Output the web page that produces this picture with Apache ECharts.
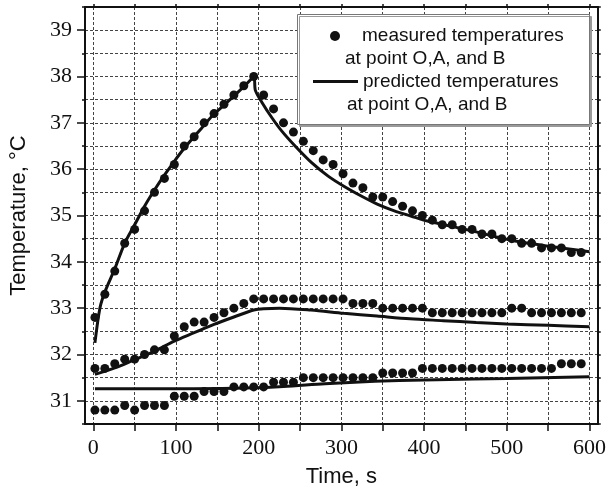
<!DOCTYPE html>
<html><head><meta charset="utf-8">
<script src="https://cdn.jsdelivr.net/npm/echarts@6/dist/echarts.min.js"></script>
<style>html,body{margin:0;padding:0;background:#fff}#c{width:609px;height:493px}</style>
</head><body><div id="c"></div>
<script>
// ---- data ----
const measuredTime = [2,14,26,38,50,62,74,86,98,110,122,134,146,158,170,182,194,206,218,230,242,254,266,278,290,302,314,326,338,350,362,374,386,398,410,422,434,446,458,470,482,494,506,518,530,542,554,566,578,590];
const measuredO = [32.8,33.3,33.8,34.4,34.7,35.1,35.5,35.8,36.1,36.5,
  36.7,37.0,37.2,37.4,37.6,37.8,38.0,37.6,37.3,37.0,
  36.8,36.6,36.4,36.2,36.1,35.9,35.7,35.6,35.4,35.4,
  35.3,35.2,35.1,35.0,34.9,34.8,34.8,34.7,34.7,34.6,
  34.6,34.5,34.5,34.4,34.4,34.3,34.3,34.3,34.2,34.2];
const measuredA = [31.7,31.7,31.8,31.9,31.9,32.0,32.1,32.1,32.4,32.6,
  32.7,32.7,32.8,32.9,33.0,33.1,33.2,33.2,33.2,33.2,
  33.2,33.2,33.2,33.2,33.2,33.2,33.1,33.1,33.1,33.0,
  33.0,33.0,33.0,33.0,32.9,32.9,32.9,32.9,32.9,32.9,
  32.9,32.9,33.0,33.0,32.9,32.9,32.9,32.9,32.9,32.9];
const measuredB = [30.8,30.8,30.8,30.9,30.8,30.9,30.9,30.9,31.1,31.1,
  31.1,31.2,31.2,31.2,31.3,31.3,31.3,31.3,31.4,31.4,
  31.4,31.5,31.5,31.5,31.5,31.5,31.5,31.5,31.5,31.6,
  31.6,31.6,31.6,31.7,31.7,31.7,31.7,31.7,31.7,31.7,
  31.7,31.7,31.7,31.7,31.7,31.7,31.7,31.8,31.8,31.8];

const predTimeO = [2,8,14,26,38,50,62,74,86,98,110,122,134,146,158,170,182,194,196,204,216,228,244,264,284,304,324,344,364,384,404,450,510,600];
const predO = [32.25,33.0,33.35,33.85,34.4,34.8,35.2,35.55,35.87,36.17,36.45,36.7,36.95,37.19,37.38,37.58,37.78,37.98,37.7,37.44,37.11,36.82,36.5,36.14,35.85,35.62,35.42,35.24,35.1,34.99,34.88,34.7,34.45,34.22];
const predTimeA = [2,26,50,74,98,122,146,170,194,206,225,263,303,343,383,423,463,500,550,600];
const predA = [31.57,31.71,31.89,32.07,32.29,32.47,32.65,32.81,32.96,32.99,33.0,32.96,32.89,32.83,32.77,32.73,32.69,32.66,32.63,32.6];
const predTimeB = [2,100,170,230,280,340,400,460,500,600];
const predB = [31.26,31.26,31.27,31.31,31.37,31.42,31.45,31.47,31.48,31.52];

const xTicks = [0,50,100,150,200,250,300,350,400,450,500,550,600];
const xLabels = [0,100,200,300,400,500,600];
const yLabels = [31,32,33,34,35,36,37,38,39];

const nameMeasured = 'measured temperatures at point O,A, and B';
const namePredicted = 'predicted temperatures at point O,A, and B';

const zip = (xs, ys) => xs.map((x, i) => [x, ys[i]]);

// ---- chart ----
const chart = echarts.init(document.getElementById('c'), null, {renderer: 'canvas'});
const gridRect = {left: 85, right: 6, top: 7, bottom: 69};
const ink = '#111';
const dash = {show: true, lineStyle: {color: '#444', width: 1, type: [3, 2]}};
const sans = 'Liberation Sans, Arial, sans-serif';
const serif = 'Liberation Serif, Times New Roman, serif';

function scatter(data) {
  return {type: 'scatter', name: nameMeasured, xAxisIndex: 0, yAxisIndex: 0,
    data: data, symbol: 'circle', symbolSize: 9, itemStyle: {color: ink, opacity: 1}, z: 3};
}
function line(data) {
  return {type: 'line', name: namePredicted, xAxisIndex: 0, yAxisIndex: 0,
    data: data, symbol: 'none', showSymbol: false, smooth: 0.3,
    lineStyle: {color: ink, width: 3}, itemStyle: {color: ink}, z: 2};
}

const legendRich = {
  e: {lineHeight: 23, fontSize: 19},
  a: {lineHeight: 23, fontSize: 19, padding: [0, 0, 0, 17]},
  b: {lineHeight: 23, fontSize: 19},
  c: {lineHeight: 23, fontSize: 19},
  d: {lineHeight: 23, fontSize: 19, padding: [0, 0, 0, -16]}
};

chart.setOption({
  animation: false,
  backgroundColor: '#fff',
  grid: [Object.assign({}, gridRect), Object.assign({}, gridRect)],
  xAxis: [
    {type: 'value', gridIndex: 0, position: 'bottom', min: -10, max: 610,
      axisLine: {show: true, onZero: false, lineStyle: {color: ink, width: 2}},
      axisTick: {show: true, customValues: xTicks, length: 7, lineStyle: {color: ink, width: 1.5}},
      axisLabel: {show: true, customValues: xLabels, margin: 13, color: ink, fontFamily: serif, fontSize: 22},
      splitLine: dash,
      name: 'Time, s', nameLocation: 'middle', nameGap: 42,
      nameTextStyle: {color: ink, fontFamily: sans, fontSize: 22}},
    {type: 'value', gridIndex: 0, position: 'top', min: -10, max: 610,
      axisLine: {show: true, onZero: false, lineStyle: {color: ink, width: 2}},
      axisTick: {show: true, customValues: xTicks, length: 3, lineStyle: {color: ink, width: 1.5}},
      axisLabel: {show: false}, splitLine: {show: false}},
    {type: 'value', gridIndex: 1, show: false, min: 0, max: 1}
  ],
  yAxis: [
    {type: 'value', gridIndex: 0, position: 'left', min: 30.5, max: 39.5, interval: 0.5,
      axisLine: {show: true, onZero: false, lineStyle: {color: ink, width: 2}},
      axisTick: {show: true, length: 3, lineStyle: {color: ink, width: 1.5}},
      axisLabel: {show: true, customValues: yLabels, margin: 13, color: ink, fontFamily: serif, fontSize: 22},
      splitLine: dash,
      name: 'Temperature, \u00B0C', nameLocation: 'middle', nameGap: 55,
      nameTextStyle: {color: ink, fontFamily: sans, fontSize: 22}},
    {type: 'value', gridIndex: 0, position: 'right', min: 30.5, max: 39.5, interval: 0.5,
      axisLine: {show: true, onZero: false, lineStyle: {color: ink, width: 2}},
      axisTick: {show: true, length: 3, lineStyle: {color: ink, width: 1.5}},
      axisLabel: {show: false}, splitLine: {show: false}},
    {type: 'value', gridIndex: 1, position: 'left', min: 30.5, max: 39.5,
      axisLine: {show: false},
      axisTick: {show: true, customValues: yLabels, length: 8, lineStyle: {color: ink, width: 1.5}},
      axisLabel: {show: false}, splitLine: {show: false}}
  ],
  graphic: [{
    type: 'rect', z: 3, silent: true,
    shape: {x: 297.5, y: 14.5, width: 292, height: 110},
    style: {fill: '#fff', stroke: '#777', lineWidth: 1,
      shadowColor: '#9a9a9a', shadowOffsetX: 2, shadowOffsetY: 2, shadowBlur: 0}
  }],
  legend: [
    {data: [{name: nameMeasured, icon: 'circle', itemStyle: {color: ink, opacity: 1}}],
      left: 330, top: 1.5, padding: 0, itemGap: 0,
      itemWidth: 10, itemHeight: 10, selectedMode: false, z: 5,
      textStyle: {color: ink, fontFamily: sans, fontSize: 19, lineHeight: 23, rich: legendRich},
      formatter: () => '{e| }\n{a|measured temperatures}\n{b|at point O,A, and B}'},
    {data: [{name: namePredicted, icon: 'rect', itemStyle: {color: ink}}],
      left: 313, top: 47, padding: 0, itemGap: 0,
      itemWidth: 45, itemHeight: 3, selectedMode: false, z: 5,
      textStyle: {color: ink, fontFamily: sans, fontSize: 19, lineHeight: 23, rich: legendRich},
      formatter: () => '{e| }\n{c|predicted temperatures}\n{d|at point O,A, and B}'}
  ],
  series: [
    line(zip(predTimeO, predO)),
    line(zip(predTimeA, predA)),
    line(zip(predTimeB, predB)),
    scatter(zip(measuredTime, measuredO)),
    scatter(zip(measuredTime, measuredA)),
    scatter(zip(measuredTime, measuredB))
  ]
});
</script></body></html>
